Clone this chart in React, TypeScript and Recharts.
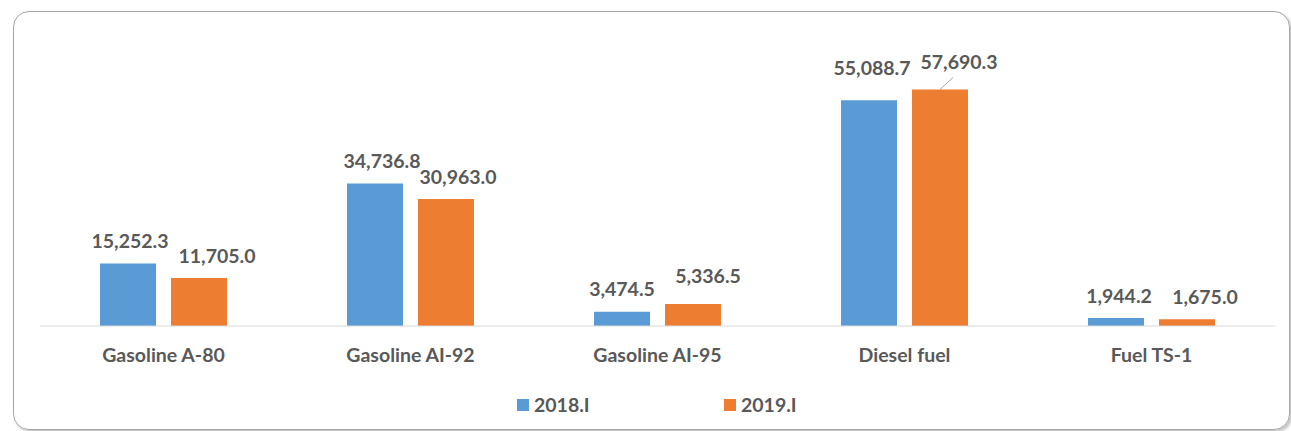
import { BarChart, Bar, XAxis, YAxis, LabelList } from "recharts";

const CATEGORIES = ["Gasoline A-80", "Gasoline AI-92", "Gasoline AI-95", "Diesel fuel", "Fuel TS-1"];
const VALUES_2018 = [15252.3, 34736.8, 3474.5, 55088.7, 1944.2];
const VALUES_2019 = [11705.0, 30963.0, 5336.5, 57690.3, 1675.0];
const SERIES_NAMES = ["2018.I", "2019.I"];

const DATA = CATEGORIES.map((name, i) => ({
	name,
	y2018: VALUES_2018[i],
	y2019: VALUES_2019[i],
}));

// label nudges copied from the Excel layout (dx, dy, leader line)
const NUDGE_2018 = [
	{ dx: 2, dy: 0 },
	{ dx: 7, dy: 0 },
	{ dx: 0, dy: 0 },
	{ dx: 3, dy: -10 },
	{ dx: 3, dy: 0 },
];
const NUDGE_2019 = [
	{ dx: 18, dy: 0 },
	{ dx: 12, dy: 0 },
	{ dx: 15, dy: -6 },
	{ dx: 19, dy: -5, leader: true },
	{ dx: 18, dy: 0 },
];

const BLUE = "#5b9bd5";
const ORANGE = "#ed7d31";
const TEXT = "#595959";
const FONT = "Lato, 'Open Sans', sans-serif";
const FONT_SIZE = 19.5;

const fmt = (v: number) =>
	v.toLocaleString("en-US", { minimumFractionDigits: 1, maximumFractionDigits: 1 });

function makeLabel(nudges: { dx: number; dy: number; leader?: boolean }[]) {
	return (props: any) => {
		const { x, y, width, value, index } = props;
		const n = nudges[index] || { dx: 0, dy: 0 };
		const cx = x + width / 2;
		const ly = y - 23 + n.dy;
		return (
			<g>
				{n.leader && (
					<line x1={cx} y1={y} x2={cx + 13} y2={y - 12} stroke="#a6a6a6" strokeWidth={1} />
				)}
				<text
					x={cx + n.dx}
					y={ly}
					textAnchor="middle"
					dominantBaseline="central"
					fill={TEXT}
					fontFamily={FONT}
					fontWeight="bold"
					fontSize={FONT_SIZE}
				>
					{fmt(value)}
				</text>
			</g>
		);
	};
}

export default function App() {
	return (
		<div style={{ position: "absolute", left: 0, top: 0, width: 1291, height: 431, background: "#fff", overflow: "hidden" }}>
			<div
				style={{
					position: "absolute",
					left: 13,
					top: 11,
					width: 1275,
					height: 417,
					border: "1px solid #a6a6a6",
					borderRadius: 16,
					boxShadow: "2px 2px 3px rgba(0,0,0,0.25)",
				}}
			/>
			<div style={{ position: "absolute", left: 0, top: 0 }}>
				<BarChart
					width={1291}
					height={431}
					data={DATA}
					margin={{ top: 80, right: 16, left: 40, bottom: 65 }}
					barSize={56}
					barGap={15}
				>
					<XAxis
						dataKey="name"
						height={40}
						axisLine={{ stroke: "#d9d9d9" }}
						tickLine={false}
						tick={{ fill: TEXT, fontFamily: FONT, fontWeight: "bold", fontSize: FONT_SIZE }}
						tickMargin={16}
						interval={0}
					/>
					<YAxis hide domain={[0, 60000]} />
					<Bar dataKey="y2018" name={SERIES_NAMES[0]} fill={BLUE} isAnimationActive={false}>
						<LabelList dataKey="y2018" content={makeLabel(NUDGE_2018)} />
					</Bar>
					<Bar dataKey="y2019" name={SERIES_NAMES[1]} fill={ORANGE} isAnimationActive={false}>
						<LabelList dataKey="y2019" content={makeLabel(NUDGE_2019)} />
					</Bar>
				</BarChart>
			</div>
			{[BLUE, ORANGE].map((c, i) => (
				<div
					key={i}
					style={{
						position: "absolute",
						left: 517 + i * 207,
						top: 393,
						display: "flex",
						alignItems: "center",
						fontFamily: FONT,
						fontWeight: "bold",
						fontSize: FONT_SIZE,
						color: TEXT,
					}}
				>
					<span style={{ display: "inline-block", width: 12, height: 12, background: c, marginRight: 5 }} />
					{SERIES_NAMES[i]}
				</div>
			))}
		</div>
	);
}
